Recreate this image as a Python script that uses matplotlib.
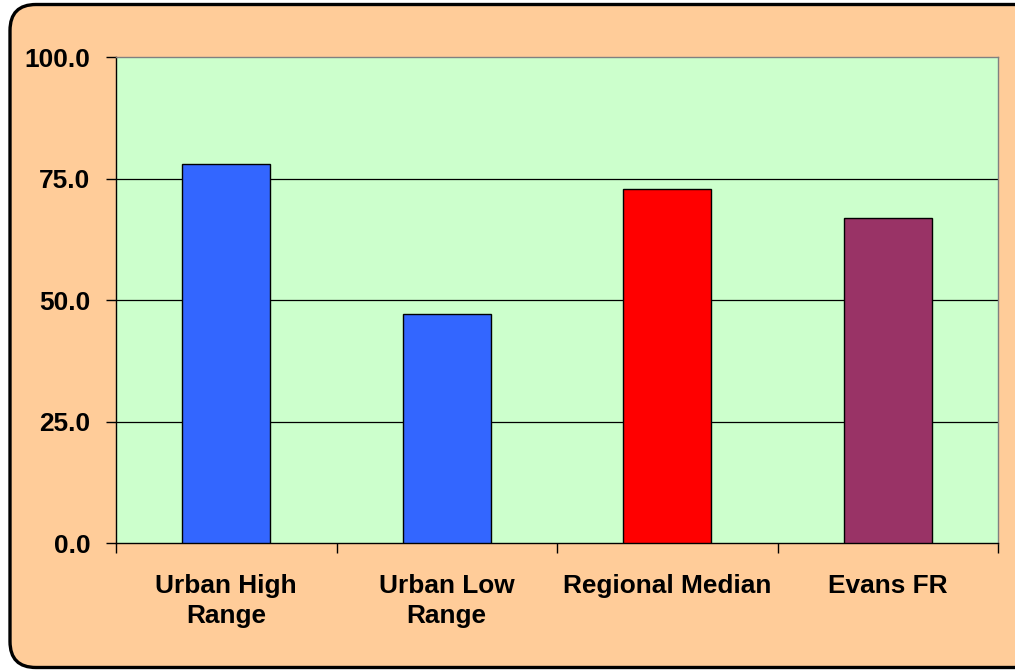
import matplotlib
matplotlib.use("Agg")
import matplotlib.pyplot as plt
from matplotlib.patches import FancyBboxPatch
from matplotlib.transforms import IdentityTransform
from matplotlib.ticker import FixedLocator, NullFormatter

# Chart data
categories = ["Urban High\nRange", "Urban Low\nRange", "Regional Median", "Evans FR"]
values = [78.1, 47.2, 73.0, 67.0]
bar_colors = ["#3366FF", "#3366FF", "#FF0000", "#993366"]
y_ticks = [0, 25, 50, 75, 100]
y_tick_labels = ["0.0", "25.0", "50.0", "75.0", "100.0"]

plt.rcParams["font.family"] = ["Liberation Sans", "DejaVu Sans"]

W, H, DPI = 1015, 670, 100
fig = plt.figure(figsize=(W / DPI, H / DPI), dpi=DPI)
fig.patch.set_facecolor("white")

# Rounded orange chart frame, drawn beneath the axes
frame = FancyBboxPatch((10, 2.5), 1030, 663,
                       boxstyle="round,pad=0,rounding_size=26",
                       facecolor="#FFCC99", edgecolor="black", linewidth=2.4,
                       transform=IdentityTransform(), zorder=-10)
fig.add_artist(frame)

ax = fig.add_axes([116 / W, 1 - 543.3 / H, (998 - 116) / W, (543.3 - 57.3) / H])
ax.set_zorder(1)
ax.set_facecolor("#CCFFCC")

x = list(range(len(categories)))
ax.bar(x, values, width=0.4, color=bar_colors, edgecolor="black",
       linewidth=1.0, zorder=3)

ax.set_xlim(-0.5, len(categories) - 0.5)
ax.set_ylim(0, 100)

# Horizontal gridlines
for v in y_ticks[1:-1]:
    ax.axhline(v, color="black", linewidth=0.9, zorder=1)

ax.set_yticks(y_ticks)
ax.set_yticklabels(y_tick_labels)
ax.tick_params(axis="y", direction="out", length=7, width=1, color="black",
               pad=11.5, labelsize=18.9)

# Category boundaries carry the tick marks; labels sit at the bar centres
ax.xaxis.set_major_locator(FixedLocator([i - 0.5 for i in range(len(categories) + 1)]))
ax.xaxis.set_major_formatter(NullFormatter())
ax.xaxis.set_minor_locator(FixedLocator(x))
ax.set_xticklabels(categories, minor=True)
ax.tick_params(axis="x", which="major", direction="out", length=7, width=1,
               color="black")
ax.tick_params(axis="x", which="minor", length=0, pad=22, labelsize=18.9)

for lbl in ax.get_xticklabels(minor=True) + ax.get_yticklabels():
    lbl.set_fontweight("bold")
for lbl in ax.get_xticklabels(minor=True):
    lbl.set_linespacing(1.3)

ax.spines["left"].set_color("black")
ax.spines["bottom"].set_color("black")
ax.spines["top"].set_color("#808080")
ax.spines["right"].set_color("#808080")
for s in ax.spines.values():
    s.set_linewidth(1.0)

fig.savefig("out.png", dpi=DPI)
